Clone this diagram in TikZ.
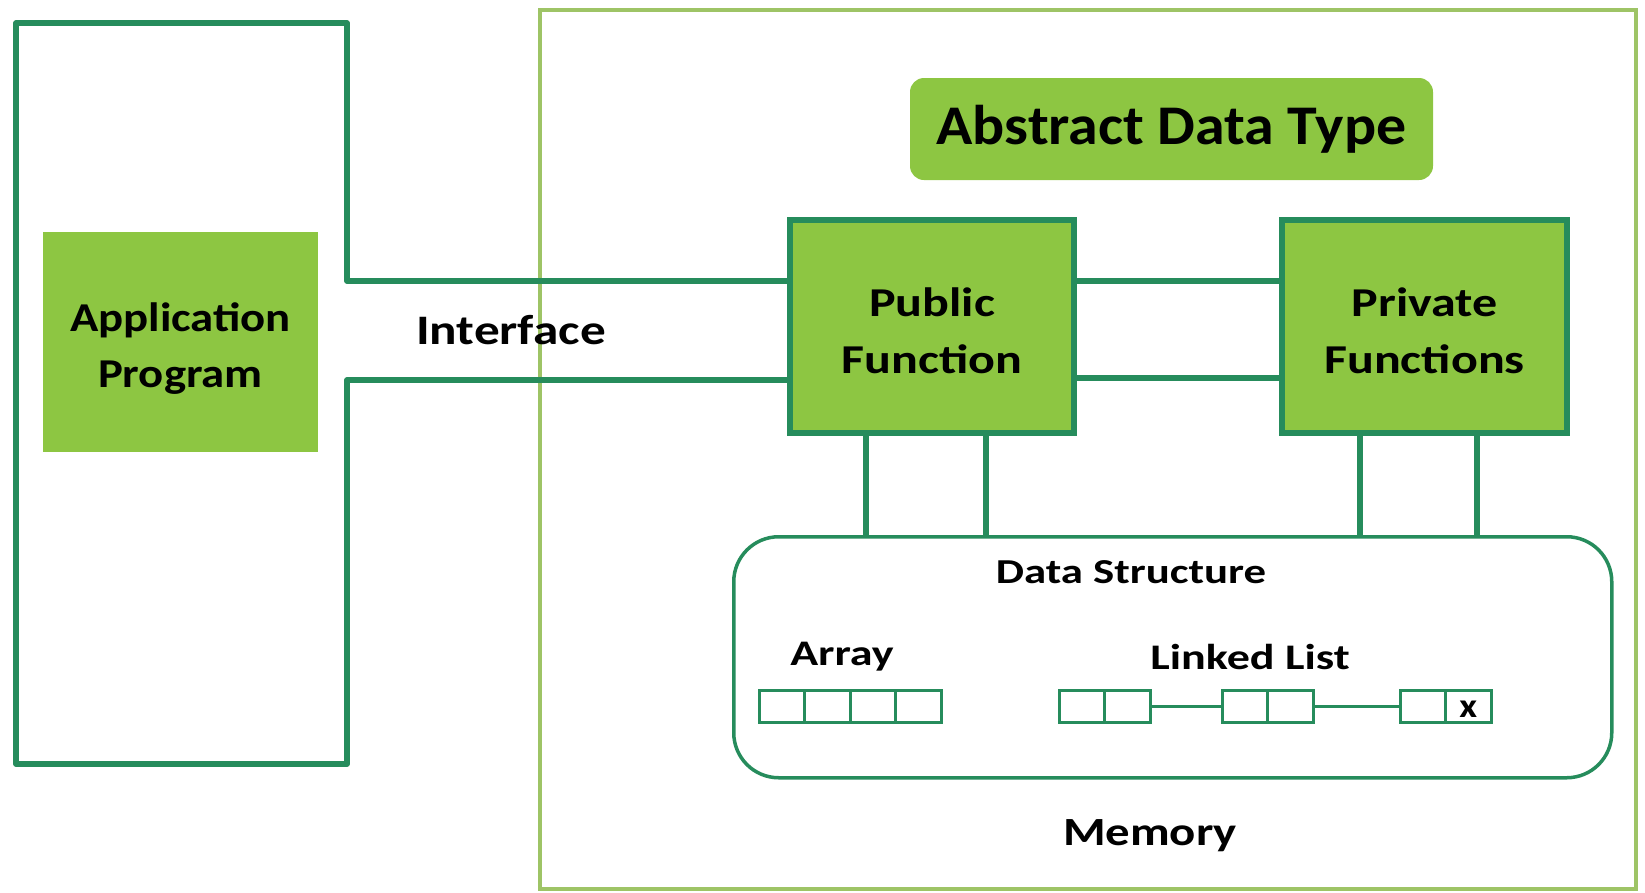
\documentclass[tikz,border=0pt]{standalone}
\usepackage{fontspec}
\setmainfont{Carlito}
\newfontfamily\fStA[FakeStretch=1.07]{Carlito}
\newfontfamily\fStB[FakeStretch=1.14]{Carlito}
\newfontfamily\fStC[FakeStretch=1.22]{Carlito}
\newfontfamily\fStD[FakeStretch=1.28]{Carlito}
\definecolor{dkgreen}{RGB}{38,140,92}
\definecolor{fillgreen}{RGB}{141,198,66}
\definecolor{ltgreen}{RGB}{158,196,102}
\begin{document}
\begin{tikzpicture}[x=1pt,y=-1pt,
  dk/.style={draw=dkgreen,line width=5.5pt,line join=round},
  fbox/.style={fill=fillgreen,draw=dkgreen,line width=5.5pt,inner sep=0pt},
  ftxt/.style={inner sep=0pt,align=center,font=\fStC\fontsize{41}{57}\selectfont\bfseries},
  lbl/.style={inner sep=0pt,font=\bfseries},
  cellbox/.style={draw=dkgreen,line width=3pt,minimum width=45.5pt,minimum height=32pt,inner sep=0pt,outer sep=0pt,anchor=west}
]
\useasboundingbox (0,0) rectangle (1645,892);
% memory frame
\node[draw=ltgreen,line width=4pt,minimum width=1096pt,minimum height=879pt,anchor=north west,inner sep=0pt] (mem) at (538,8) {};
\node[lbl,font=\fStC\fontsize{40}{48}\selectfont\bfseries] (memlbl) at (1150,836) {Memory};
% ADT title
\node[fill=fillgreen,rounded corners=14pt,minimum width=523pt,minimum height=102pt,inner sep=0pt,font=\fStA\fontsize{56}{60}\selectfont\bfseries] (adt) at (1171.5,129) {Abstract Data Type};
% application program
\node[fill=fillgreen,minimum width=275pt,minimum height=220pt,inner sep=0pt] (app) at (180.5,342) {};
\node[inner sep=0pt,align=center,font=\fStB\fontsize{41}{56}\selectfont\bfseries] (apptxt) at ([yshift=-7pt]app.center) {Application\\Program};
% functions
\node[fbox,minimum width=284pt,minimum height=213pt] (pub) at (932,326.5) {};
\node[ftxt] (pubtxt) at ([yshift=-4pt]pub.center) {Public\\Function};
\node[fbox,minimum width=285pt,minimum height=213pt] (priv) at (1424.5,326.5) {};
\node[ftxt] (privtxt) at ([yshift=-4pt]priv.center) {Private\\Functions};
% interface frame
\coordinate (ifa) at (347,281);
\coordinate (ifb) at (347,380);
\draw[dk] (pub.west |- ifa) -- (ifa) -- (347,23) -- (16,23) -- (16,764) -- (347,764) -- (ifb) -- (pub.west |- ifb);
\node[lbl,font=\fStC\fontsize{42}{48}\selectfont\bfseries] (iface) at (511,330) {Interface};
% pub-priv links
\draw[dk] (pub.east |- 0,281) -- (priv.west |- 0,281);
\draw[dk] (pub.east |- 0,378) -- (priv.west |- 0,378);
% data structure
\node[draw=dkgreen,line width=3.5pt,rounded corners=45pt,minimum width=878pt,minimum height=241pt,inner sep=0pt,anchor=north west] (ds) at (732,535) {};
\node[lbl,font=\fStD\fontsize{35}{40}\selectfont\bfseries] (dslbl) at (1131,572) {Data Structure};
\foreach \x in {866,986} \draw[dk] (pub.south -| \x,0) -- (ds.north -| \x,0);
\foreach \x in {1360,1477} \draw[dk] (priv.south -| \x,0) -- (ds.north -| \x,0);
% array
\node[lbl,font=\fStD\fontsize{36}{40}\selectfont\bfseries] (arrlbl) at (842,657) {Array};
\node[cellbox] (a1) at (759,706) {};
\node[cellbox] (a2) at (a1.east) {};
\node[cellbox] (a3) at (a2.east) {};
\node[cellbox] (a4) at (a3.east) {};
% linked list
\node[lbl,font=\fStD\fontsize{36}{40}\selectfont\bfseries] (lllbl) at (1250,657) {Linked List};
\node[cellbox] (l1a) at (1059,706) {};
\node[cellbox] (l1b) at (l1a.east) {};
\node[cellbox] (l2a) at (1222,706) {};
\node[cellbox] (l2b) at (l2a.east) {};
\node[cellbox] (l3a) at (1400,706) {};
\node[cellbox] (l3b) at (l3a.east) {};
\node[inner sep=0pt,font=\fStB\fontsize{34}{34}\selectfont\bfseries] (xmark) at ([yshift=-3pt]l3b.center) {x};
\draw[draw=dkgreen,line width=3pt] (l1b.east) -- (l2a.west);
\draw[draw=dkgreen,line width=3pt] (l2b.east) -- (l3a.west);
\end{tikzpicture}
\end{document}
